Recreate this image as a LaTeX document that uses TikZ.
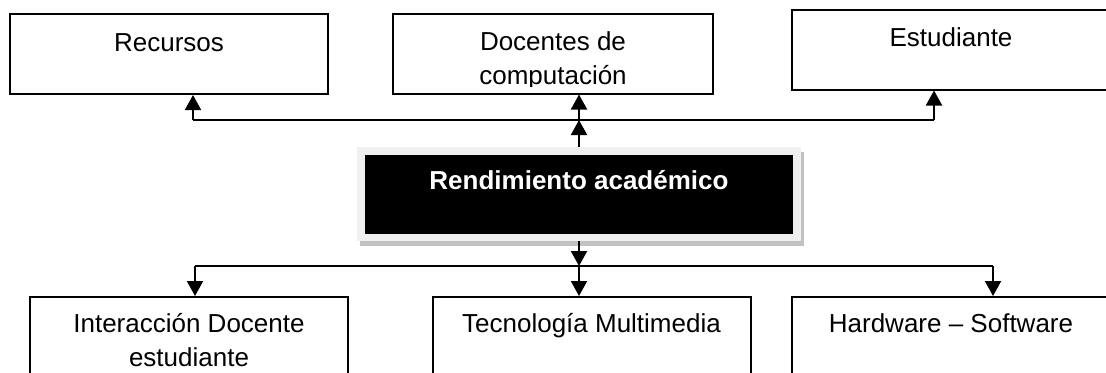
\documentclass[tikz,border=0pt]{standalone}
\usepackage{fontspec}
\setmainfont{Liberation Sans}
\usetikzlibrary{arrows.meta,positioning,calc,shadows}
\definecolor{marco}{gray}{0.94}
\definecolor{sombra}{gray}{0.76}

\begin{document}
\begin{tikzpicture}[x=0.5pt,y=-0.5pt,>={Triangle[width=8pt,length=7.5pt]},
  caja/.style={draw,line width=1pt,inner sep=0pt,minimum width=159pt,minimum height=40pt},
  txt/.style={font=\fontsize{13pt}{17pt}\selectfont,align=center,inner sep=0pt,anchor=base},
  nucleo/.style={fill=marco,inner sep=0pt,minimum width=222pt,minimum height=47pt,
    drop shadow={shadow xshift=1.5pt,shadow yshift=-2.5pt,fill=sombra,opacity=1},
    path picture={\fill[black] ($(path picture bounding box.north west)+(4pt,-4pt)$)
      rectangle ($(path picture bounding box.south east)+(-4pt,3.5pt)$);}},
  flecha/.style={->,line width=1pt},
  linea/.style={line width=1pt}]
  \useasboundingbox (0,0) rectangle (1106,372);

  % Upper row
  \node[caja] (rec) at (169,54) {};
  \node[caja,minimum width=160pt] (doc) at (553,53.5) {};
  \node[caja] (est) at (951,49.5) {};
  \node[txt] (recT) at ($(rec.north)+(0,38)$) {Recursos};
  \begin{scope}
    \clip (doc.north west) rectangle ($(doc.south east)+(0,-8)$);
    \node[txt] (docT) at ($(doc.north)+(0,72)$) {Docentes de\\computación};
  \end{scope}
  \node[txt] (estT) at ($(est.north)+(0,38)$) {Estudiante};

  % Central box
  \node[nucleo] (main) at (579,194) {};
  \node[txt,font=\fontsize{13pt}{17pt}\selectfont\bfseries,text=white] (mainT)
    at ($(main.north)+(0,43)$) {Rendimiento académico};

  % Lower row
  \node[caja] (int) at (189,337) {};
  \node[caja] (tec) at (591.5,337) {};
  \node[caja] (hw) at (951,337) {};
  \node[txt] (intT) at ($(int.north)+(0,70)$) {Interacción Docente\\estudiante};
  \node[txt] (tecT) at ($(tec.north)+(0,36)$) {Tecnología Multimedia};
  \node[txt] (hwT) at ($(hw.north)+(0,36)$) {Hardware – Software};

  % Upper connectors
  \coordinate (jt) at (main.north |- 0,120);
  \coordinate (tl) at (193,120);
  \coordinate (tr) at (934,120);
  \draw[linea] (tl) -- (tr);
  \draw[flecha] (main.north) -- (jt);
  \draw[flecha] (jt) -- (jt |- doc.south);
  \draw[flecha] (tl) -- (tl |- rec.south);
  \draw[flecha] (tr) -- (tr |- est.south);

  % Lower connectors
  \coordinate (jb) at (main.south |- 0,266);
  \coordinate (bl) at (195,266);
  \coordinate (br) at (993,266);
  \draw[linea] (bl) -- (br);
  \draw[flecha] (main.south) -- (jb);
  \draw[flecha] (jb) -- (jb |- tec.north);
  \draw[flecha] (bl) -- (bl |- int.north);
  \draw[flecha] (br) -- (br |- hw.north);
\end{tikzpicture}
\end{document}
